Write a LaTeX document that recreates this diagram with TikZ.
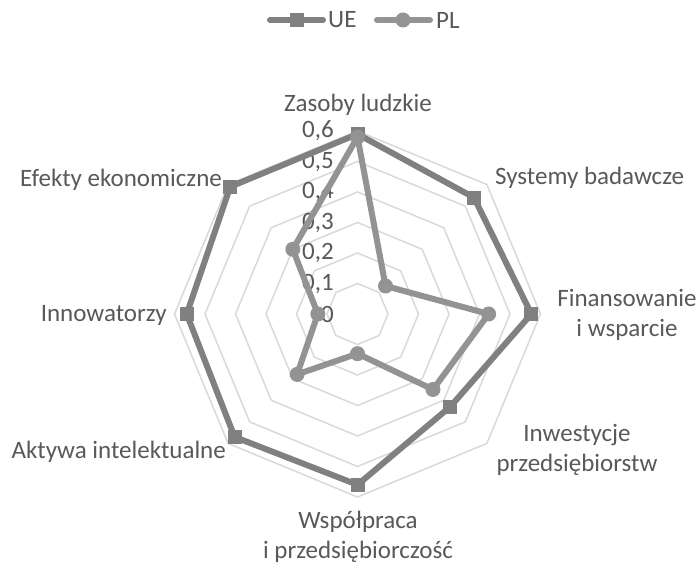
\documentclass[tikz,border=0pt]{standalone}
\usepackage{fontspec}
\setmainfont{Carlito}
\definecolor{txt}{HTML}{595959}
\definecolor{gridc}{HTML}{D9D9D9}
\definecolor{uec}{HTML}{808080}
\definecolor{plc}{HTML}{939393}
\begin{document}
\begin{tikzpicture}[x=1pt,y=-1pt,
  every node/.style={text=txt,font=\fontsize{25}{30}\selectfont},
  gridline/.style={draw=gridc,line width=1.5pt},
  ueline/.style={draw=uec,line width=6pt,line join=round,line cap=round},
  plline/.style={draw=plc,line width=6pt,line join=round,line cap=round},
  uemark/.style={rectangle,fill=uec,minimum size=14pt,inner sep=0pt},
  plmark/.style={circle,fill=plc,minimum size=15pt,inner sep=0pt},
  axislabel/.style={align=center,inner sep=0pt},
  ticklabel/.style={anchor=east,inner sep=0pt}]
\useasboundingbox (0,0) rectangle (699,564);
\fill[white] (0,0) rectangle (699,564);

% radar grid: one octagon per 0.1 step, 30.5 units each
\begin{scope}[shift={(357.5,314)}]
  \foreach \k in {1,...,6} {
    \draw[gridline] (-90:\k*30.5) \foreach \a in {-45,0,...,225} { -- (\a:\k*30.5) } -- cycle;
  }
  % data points (axis i at angle -90+45i, clockwise from the top)
  \foreach \v [count=\i from 0] in {0.59,0.54,0.57,0.43,0.56,0.57,0.56,0.59}
    \coordinate (ue\i) at ({-90+45*\i}:{\v*305});
  \foreach \v [count=\i from 0] in {0.58,0.13,0.43,0.35,0.13,0.28,0.13,0.30}
    \coordinate (pl\i) at ({-90+45*\i}:{\v*305});
\end{scope}

% tick labels along the top axis
\foreach \t [count=\j from 0] in {0,{0,1},{0,2},{0,3},{0,4},{0,5},{0,6}}
  \node[ticklabel] (tick\j) at (334,{314-30.5*\j}) {\t};

% UE series
\draw[ueline] (ue0) -- (ue1) -- (ue2) -- (ue3) -- (ue4) -- (ue5) -- (ue6) -- (ue7) -- cycle;
\foreach \i in {0,...,7} \node[uemark] (uem\i) at (ue\i) {};
% PL series
\draw[plline] (pl0) -- (pl1) -- (pl2) -- (pl3) -- (pl4) -- (pl5) -- (pl6) -- (pl7) -- cycle;
\foreach \i in {0,...,7} \node[plmark] (plm\i) at (pl\i) {};

% axis names
\node[axislabel] (zl) at (358,105) {Zasoby ludzkie};
\node[axislabel,anchor=west] (sb) at (495,178) {Systemy badawcze};
\node[axislabel] (fw) at (627,315) {Finansowanie\\i wsparcie};
\node[axislabel] (ip) at (577,450) {Inwestycje\\przedsiębiorstw};
\node[axislabel] (wp) at (358,537) {Współpraca\\i przedsiębiorczość};
\node[axislabel,anchor=east] (ai) at (226,452) {Aktywa intelektualne};
\node[axislabel,anchor=east] (in) at (167,315) {Innowatorzy};
\node[axislabel,anchor=east] (ee) at (222,180) {Efekty ekonomiczne};

% legend
\coordinate (lu1) at (270,20); \coordinate (lu2) at (323,20);
\draw[ueline] (lu1) -- (lu2);
\node[uemark] (lum) at (297,20) {};
\node[anchor=west,inner sep=0pt] (lut) at (328,20) {UE};
\coordinate (lp1) at (377,20); \coordinate (lp2) at (430,20);
\draw[plline] (lp1) -- (lp2);
\node[plmark] (lpm) at (403,20) {};
\node[anchor=west,inner sep=0pt] (lpt) at (436,20) {PL};
\end{tikzpicture}
\end{document}
